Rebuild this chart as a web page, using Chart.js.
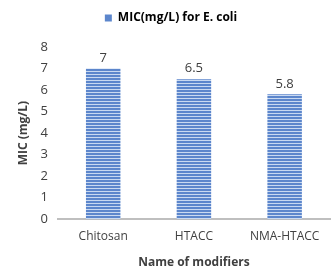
<!DOCTYPE html>
<html>
<head>
<meta charset="utf-8">
<script src="https://cdn.jsdelivr.net/npm/chart.js@4"></script>
<style>
  html, body { margin: 0; padding: 0; background: #fff; }
  #wrap { width: 336px; height: 277px; }
</style>
</head>
<body>
<div id="wrap"><canvas id="chart" width="336" height="277"></canvas></div>
<script>
const categories = ['Chitosan', 'HTACC', 'NMA-HTACC'];
const micValues = [7, 6.5, 5.8];
const valueLabels = ['7', '6.5', '5.8'];

// horizontal stripe fill like the original
function stripePattern() {
  const c = document.createElement('canvas');
  c.width = 4;
  c.height = 3;
  const g = c.getContext('2d');
  g.fillStyle = '#5c86cc';
  g.fillRect(0, 0, 4, 2);
  g.fillStyle = '#c9d9f1';
  g.fillRect(0, 2, 4, 1);
  return g.createPattern(c, 'repeat');
}

// value labels above bars
const barLabels = {
  id: 'barLabels',
  afterDatasetsDraw(chart) {
    const ctx = chart.ctx;
    const meta = chart.getDatasetMeta(0);
    ctx.save();
    ctx.font = '13px "Open Sans", sans-serif';
    ctx.fillStyle = '#404040';
    ctx.textAlign = 'center';
    ctx.textBaseline = 'bottom';
    meta.data.forEach((bar, i) => {
      ctx.fillText(valueLabels[i], bar.x, bar.y - 4);
    });
    ctx.restore();
  }
};

// extra space under the legend
const legendGap = {
  id: 'legendGap',
  beforeInit(chart) {
    const fit = chart.legend.fit;
    chart.legend.fit = function () {
      fit.bind(chart.legend)();
      this.height += 13;
    };
  }
};

const ctx = document.getElementById('chart').getContext('2d');
new Chart(ctx, {
  type: 'bar',
  data: {
    labels: categories,
    datasets: [{
      label: 'MIC(mg/L) for E. coli',
      data: micValues,
      backgroundColor: stripePattern(),
      borderWidth: 0,
      categoryPercentage: 0.38,
      barPercentage: 1
    }]
  },
  options: {
    responsive: false,
    animation: false,
    layout: { padding: { left: 12, right: 6, top: 2, bottom: 3 } },
    plugins: {
      legend: {
        display: true,
        position: 'top',
        labels: {
          boxWidth: 7,
          boxHeight: 7,
          color: '#404040',
          font: { family: '"Open Sans", sans-serif', size: 12, weight: 'bold' },
          padding: 10,
          generateLabels() {
            return [{ text: 'MIC(mg/L) for E. coli', fillStyle: '#5c86cc', strokeStyle: '#5c86cc', lineWidth: 0 }];
          }
        }
      },
      tooltip: { enabled: false }
    },
    scales: {
      x: {
        grid: { display: false, drawTicks: false },
        border: { color: '#bfbfbf', width: 2 },
        ticks: { color: '#404040', font: { family: '"Open Sans", sans-serif', size: 12 }, padding: 10 },
        title: { display: true, text: 'Name of modifiers', color: '#404040',
                 font: { family: '"Open Sans", sans-serif', size: 12, weight: 'bold' }, padding: { top: 2 } }
      },
      y: {
        min: 0,
        max: 8,
        ticks: { stepSize: 1, color: '#404040', font: { family: '"Open Sans", sans-serif', size: 13 }, padding: 10 },
        grid: { display: false, drawTicks: false },
        border: { display: false },
        title: { display: true, text: 'MIC (mg/L)', color: '#404040',
                 font: { family: '"Open Sans", sans-serif', size: 12, weight: 'bold' }, padding: { bottom: 0 } }
      }
    }
  },
  plugins: [barLabels, legendGap]
});
</script>
</body>
</html>
